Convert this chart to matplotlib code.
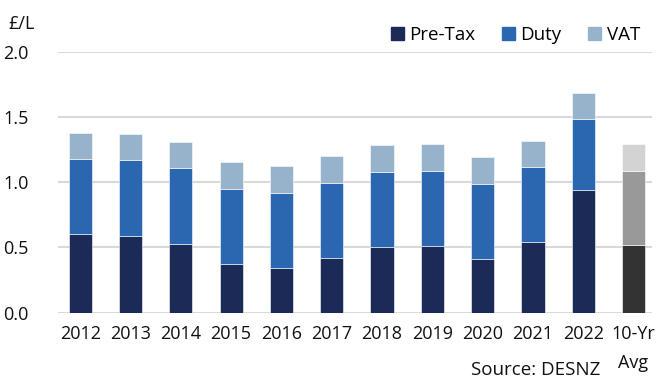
import numpy as np
import matplotlib
matplotlib.use('Agg')
import matplotlib.pyplot as plt
from matplotlib.patches import Patch

years = ['2012', '2013', '2014', '2015', '2016', '2017', '2018', '2019',
         '2020', '2021', '2022', '10-Yr\nAvg']
pre_tax = [0.60, 0.59, 0.53, 0.37, 0.34, 0.42, 0.50, 0.51, 0.41, 0.54, 0.94, 0.52]
duty = [0.58, 0.58, 0.58, 0.58, 0.58, 0.575, 0.58, 0.58, 0.58, 0.58, 0.545, 0.57]
vat = [0.20, 0.20, 0.20, 0.205, 0.205, 0.205, 0.205, 0.20, 0.20, 0.20, 0.20, 0.20]

plt.rcParams['font.family'] = ['Open Sans', 'DejaVu Sans']

navy, blue, light = '#1b2a57', '#2b67b1', '#97b3cc'
c_pre = [navy] * 11 + ['#333333']
c_duty = [blue] * 11 + ['#999999']
c_vat = [light] * 11 + ['#d3d3d3']

fs = 13

fig = plt.figure(figsize=(6.67, 3.87), dpi=100)
ax = fig.add_axes([0.087, 0.192, 0.890, 0.674])

x = np.arange(len(years))
pre = np.array(pre_tax)
du = np.array(duty)
w = 0.46
ax.bar(x, pre, w, color=c_pre, edgecolor='white', linewidth=0.4, zorder=3)
ax.bar(x, du, w, bottom=pre, color=c_duty, edgecolor='white', linewidth=0.4, zorder=3)
ax.bar(x, vat, w, bottom=pre + du, color=c_vat, edgecolor='white', linewidth=0.4, zorder=3)

ax.set_ylim(0, 2.0)
ax.set_xlim(-0.44, 11.36)
ax.set_yticks([0.0, 0.5, 1.0, 1.5, 2.0])
ax.set_yticklabels(['0.0', '0.5', '1.0', '1.5', '2.0'])
ax.set_xticks(x)
ax.set_xticklabels(years, va='top', linespacing=1.8)
ax.tick_params(axis='both', length=0, labelsize=fs, colors='#111111')
ax.tick_params(axis='x', pad=9)
ax.tick_params(axis='y', pad=21)
ax.grid(axis='y', color='#d9d9d9', linewidth=1.5, zorder=0)
ax.set_axisbelow(True)
for s in ax.spines.values():
    s.set_visible(False)

fig.text(0.012, 0.938, '£/L', fontsize=fs, color='#111111', va='center')
fig.text(0.90, 0.044, 'Source: DESNZ', fontsize=13.5, color='#111111', ha='right', va='center')

handles = [Patch(color=navy, label='Pre-Tax'), Patch(color=blue, label='Duty'),
           Patch(color=light, label='VAT')]
fig.legend(handles=handles, loc='center right', bbox_to_anchor=(0.985, 0.91), ncol=3,
           frameon=False, fontsize=13.5, handlelength=0.7, handleheight=0.7,
           handletextpad=0.3, columnspacing=1.4)

fig.savefig('out.png', dpi=100)
